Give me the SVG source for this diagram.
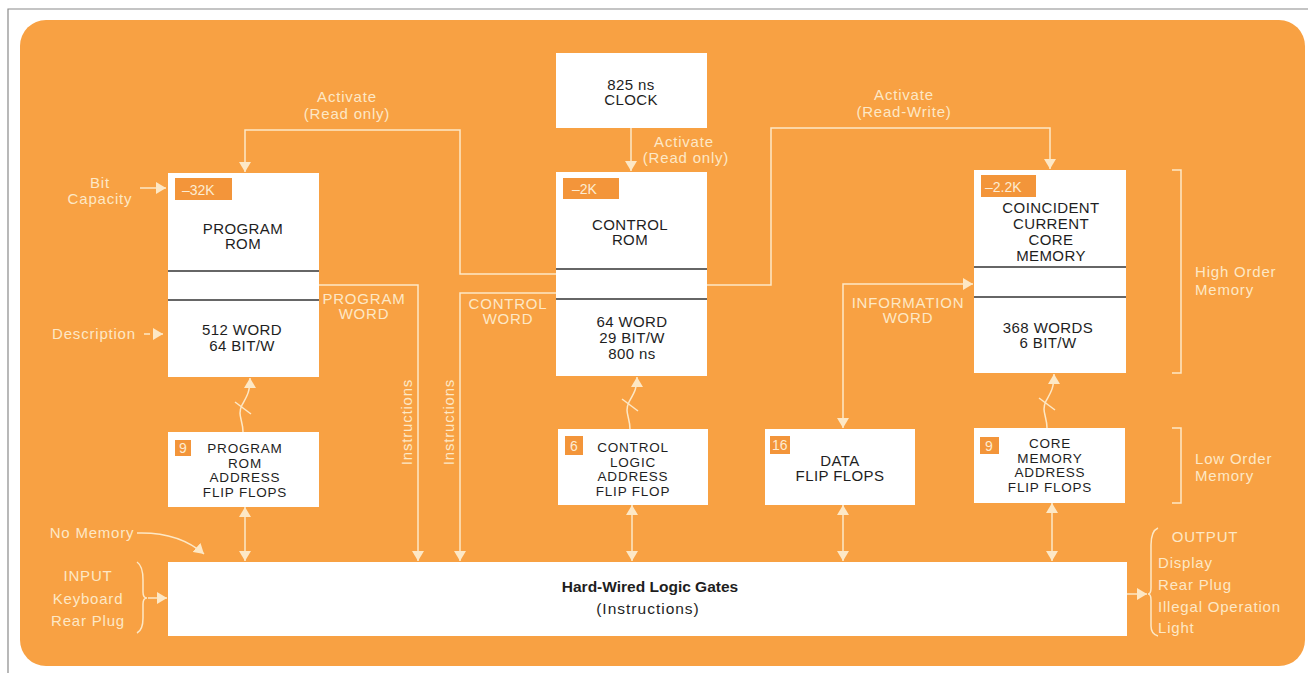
<svg xmlns="http://www.w3.org/2000/svg" width="1310" height="673" viewBox="0 0 1310 673">
<defs>
<style>
.bg{fill:#F8A143}
.box{fill:#FFFFFF}
.tag{fill:#F3953A}
.bt{font-family:"Liberation Sans",Arial,sans-serif;font-size:15px;letter-spacing:0.4px;fill:#1E1E1E;text-anchor:middle}
.ft{font-family:"Liberation Sans",Arial,sans-serif;font-size:13.5px;letter-spacing:0.8px;fill:#1E1E1E;text-anchor:middle}
.lbl{font-family:"Liberation Sans",Arial,sans-serif;font-size:15px;letter-spacing:0.8px;fill:#FDE8C6;text-anchor:middle}
.lbs{font-family:"Liberation Sans",Arial,sans-serif;font-size:15px;letter-spacing:0.8px;fill:#FDE8C6;text-anchor:start}
.tg{font-family:"Liberation Sans",Arial,sans-serif;font-size:14px;fill:#FDECD2}
.cn{fill:none;stroke:#FDE8C6;stroke-width:1.5}
.sep{stroke:#333333;stroke-width:1.5}
.hw{font-family:"Liberation Sans",Arial,sans-serif;font-size:15.5px;fill:#1E1E1E;text-anchor:middle}
</style>
<marker id="ah" viewBox="0 0 10 12" refX="10" refY="6" markerWidth="10" markerHeight="12" markerUnits="userSpaceOnUse" orient="auto-start-reverse">
<path d="M0,0 L10,6 L0,12 z" fill="#FDE8C6"/>
</marker>
</defs>

<rect x="0" y="0" width="1310" height="673" fill="#FFFFFF"/>
<path d="M8,673 V9 H1308" fill="none" stroke="#8A8A8A" stroke-width="1.2"/>
<rect class="bg" x="20" y="20" width="1285" height="646" rx="26" ry="26"/>

<g id="connectors">
<path class="cn" d="M556,274 H460 V130 H245 V172" marker-end="url(#ah)"/>
<path class="cn" d="M631,128 V171" marker-end="url(#ah)"/>
<path class="cn" d="M707,285 H771 V128 H1050 V169" marker-end="url(#ah)"/>
<path class="cn" d="M319,285 H418 V561" marker-end="url(#ah)"/>
<path class="cn" d="M556,293 H460 V561" marker-end="url(#ah)"/>
<path class="cn" d="M843,428 V284 H973" marker-start="url(#ah)" marker-end="url(#ah)"/>
<path class="cn" d="M245,507 V561" marker-start="url(#ah)" marker-end="url(#ah)"/>
<path class="cn" d="M632,505 V561" marker-start="url(#ah)" marker-end="url(#ah)"/>
<path class="cn" d="M843,505 V561" marker-start="url(#ah)" marker-end="url(#ah)"/>
<path class="cn" d="M1052,503 V561" marker-start="url(#ah)" marker-end="url(#ah)"/>
<path class="cn" d="M243,432 C243,420 237,415 242,405 C247,396 250,392 250,378" marker-end="url(#ah)"/>
<path class="cn" d="M235,402 L251,414"/>
<path class="cn" d="M630,429 C630,417 624,412 629,402 C634,393 637,389 637,377" marker-end="url(#ah)"/>
<path class="cn" d="M622,399 L638,411"/>
<path class="cn" d="M1047,428 C1047,416 1041,411 1046,401 C1051,392 1054,388 1054,374" marker-end="url(#ah)"/>
<path class="cn" d="M1039,398 L1055,410"/>
<path class="cn" d="M140,188 H166" marker-end="url(#ah)"/>
<path class="cn" d="M144,334 H150 M153,334 H163" marker-end="url(#ah)"/>
<path class="cn" d="M137,533 C168,532 188,540 204,554" marker-end="url(#ah)"/>
<path class="cn" d="M137,562 Q143,566 143,580 L143,592 Q143,598 147,598 Q143,598 143,604 L143,618 Q143,630 137,633"/>
<path class="cn" d="M148,598 H167" marker-end="url(#ah)"/>
<path class="cn" d="M1127,594 H1147" marker-end="url(#ah)"/>
<path class="cn" d="M1158,528 Q1151,531 1151,545 L1151,588 Q1151,594 1148,594 Q1151,594 1151,600 L1151,626 Q1151,634 1158,636"/>
<path class="cn" d="M1172,170 H1181 V373 H1172"/>
<path class="cn" d="M1172,428 H1181 V503 H1172"/>
</g>

<g id="labels">
<text class="lbl" x="347" y="102">Activate</text>
<text class="lbl" x="347" y="119">(Read only)</text>
<text class="lbl" x="684" y="147">Activate</text>
<text class="lbl" x="686" y="163">(Read only)</text>
<text class="lbl" x="904" y="100">Activate</text>
<text class="lbl" x="904" y="117">(Read-Write)</text>
<text class="lbl" x="100" y="188">Bit</text>
<text class="lbl" x="100" y="204">Capacity</text>
<text class="lbl" x="94" y="339">Description</text>
<text class="lbl" x="364" y="304">PROGRAM</text>
<text class="lbl" x="364" y="319">WORD</text>
<text class="lbl" x="508" y="309">CONTROL</text>
<text class="lbl" x="508" y="324">WORD</text>
<text class="lbl" x="908" y="308">INFORMATION</text>
<text class="lbl" x="908" y="323">WORD</text>
<text class="lbl" transform="translate(412,422) rotate(-90)">Instructions</text>
<text class="lbl" transform="translate(454,422) rotate(-90)">Instructions</text>
<text class="lbl" x="92" y="538">No Memory</text>
<text class="lbl" x="88" y="581">INPUT</text>
<text class="lbl" x="88" y="604">Keyboard</text>
<text class="lbl" x="88" y="626">Rear Plug</text>
<text class="lbl" x="1205" y="542">OUTPUT</text>
<text class="lbs" x="1158" y="568">Display</text>
<text class="lbs" x="1158" y="590">Rear Plug</text>
<text class="lbs" x="1158" y="612">Illegal Operation</text>
<text class="lbs" x="1158" y="633">Light</text>
<text class="lbs" x="1195" y="277">High Order</text>
<text class="lbs" x="1195" y="295">Memory</text>
<text class="lbs" x="1195" y="464">Low Order</text>
<text class="lbs" x="1195" y="481">Memory</text>
</g>

<g id="clock">
<rect class="box" x="556" y="53" width="151" height="75"/>
<text class="bt" x="631" y="90">825 ns</text>
<text class="bt" x="631" y="105">CLOCK</text>
</g>

<g id="program-rom">
<rect class="box" x="168" y="173" width="151" height="204"/>
<line class="sep" x1="168" y1="271" x2="319" y2="271"/>
<line class="sep" x1="168" y1="300" x2="319" y2="300"/>
<rect class="tag" x="175" y="178" width="57" height="22"/>
<text class="tg" x="182" y="195">–32K</text>
<text class="bt" x="243" y="234">PROGRAM</text>
<text class="bt" x="243" y="249">ROM</text>
<text class="bt" x="242" y="335">512 WORD</text>
<text class="bt" x="242" y="351">64 BIT/W</text>
</g>

<g id="control-rom">
<rect class="box" x="556" y="172" width="151" height="204"/>
<line class="sep" x1="556" y1="269" x2="707" y2="269"/>
<line class="sep" x1="556" y1="299" x2="707" y2="299"/>
<rect class="tag" x="563" y="178" width="56" height="21"/>
<text class="tg" x="572" y="194">–2K</text>
<text class="bt" x="630" y="230">CONTROL</text>
<text class="bt" x="630" y="245">ROM</text>
<text class="bt" x="632" y="327">64 WORD</text>
<text class="bt" x="632" y="343">29 BIT/W</text>
<text class="bt" x="632" y="359">800 ns</text>
</g>

<g id="core-memory">
<rect class="box" x="974" y="170" width="152" height="203"/>
<line class="sep" x1="974" y1="267" x2="1126" y2="267"/>
<line class="sep" x1="974" y1="297" x2="1126" y2="297"/>
<rect class="tag" x="981" y="175" width="55" height="22"/>
<text class="tg" x="985" y="192">–2.2K</text>
<text class="bt" x="1051" y="213">COINCIDENT</text>
<text class="bt" x="1051" y="229">CURRENT</text>
<text class="bt" x="1051" y="245">CORE</text>
<text class="bt" x="1051" y="261">MEMORY</text>
<text class="bt" x="1048" y="333">368 WORDS</text>
<text class="bt" x="1048" y="348">6 BIT/W</text>
</g>

<g id="program-rom-address-ff">
<rect class="box" x="168" y="432" width="151" height="75"/>
<rect class="tag" x="175" y="440" width="16" height="16"/>
<text class="tg" x="179" y="453">9</text>
<text class="ft" x="245" y="453">PROGRAM</text>
<text class="ft" x="245" y="467.5">ROM</text>
<text class="ft" x="245" y="482">ADDRESS</text>
<text class="ft" x="245" y="496.5">FLIP FLOPS</text>
</g>

<g id="control-logic-address-ff">
<rect class="box" x="558" y="429" width="150" height="76"/>
<rect class="tag" x="565" y="436" width="18" height="19"/>
<text class="tg" x="570" y="451">6</text>
<text class="ft" x="633" y="452">CONTROL</text>
<text class="ft" x="633" y="466.5">LOGIC</text>
<text class="ft" x="633" y="481">ADDRESS</text>
<text class="ft" x="633" y="495.5">FLIP FLOP</text>
</g>

<g id="data-ff">
<rect class="box" x="765" y="429" width="150" height="76"/>
<rect class="tag" x="770" y="436" width="20" height="18"/>
<text class="tg" x="772" y="450">16</text>
<text class="bt" x="840" y="466">DATA</text>
<text class="bt" x="840" y="481">FLIP FLOPS</text>
</g>

<g id="core-memory-address-ff">
<rect class="box" x="974" y="428" width="151" height="75"/>
<rect class="tag" x="980" y="437" width="19" height="17"/>
<text class="tg" x="985" y="451">9</text>
<text class="ft" x="1050" y="448">CORE</text>
<text class="ft" x="1050" y="462.5">MEMORY</text>
<text class="ft" x="1050" y="477">ADDRESS</text>
<text class="ft" x="1050" y="491.5">FLIP FLOPS</text>
</g>

<g id="hard-wired-logic">
<rect class="box" x="168" y="562" width="959" height="74"/>
<text class="hw" x="650" y="592" font-weight="bold">Hard-Wired Logic Gates</text>
<text class="hw" x="648" y="614" letter-spacing="1">(Instructions)</text>
</g>
</svg>
